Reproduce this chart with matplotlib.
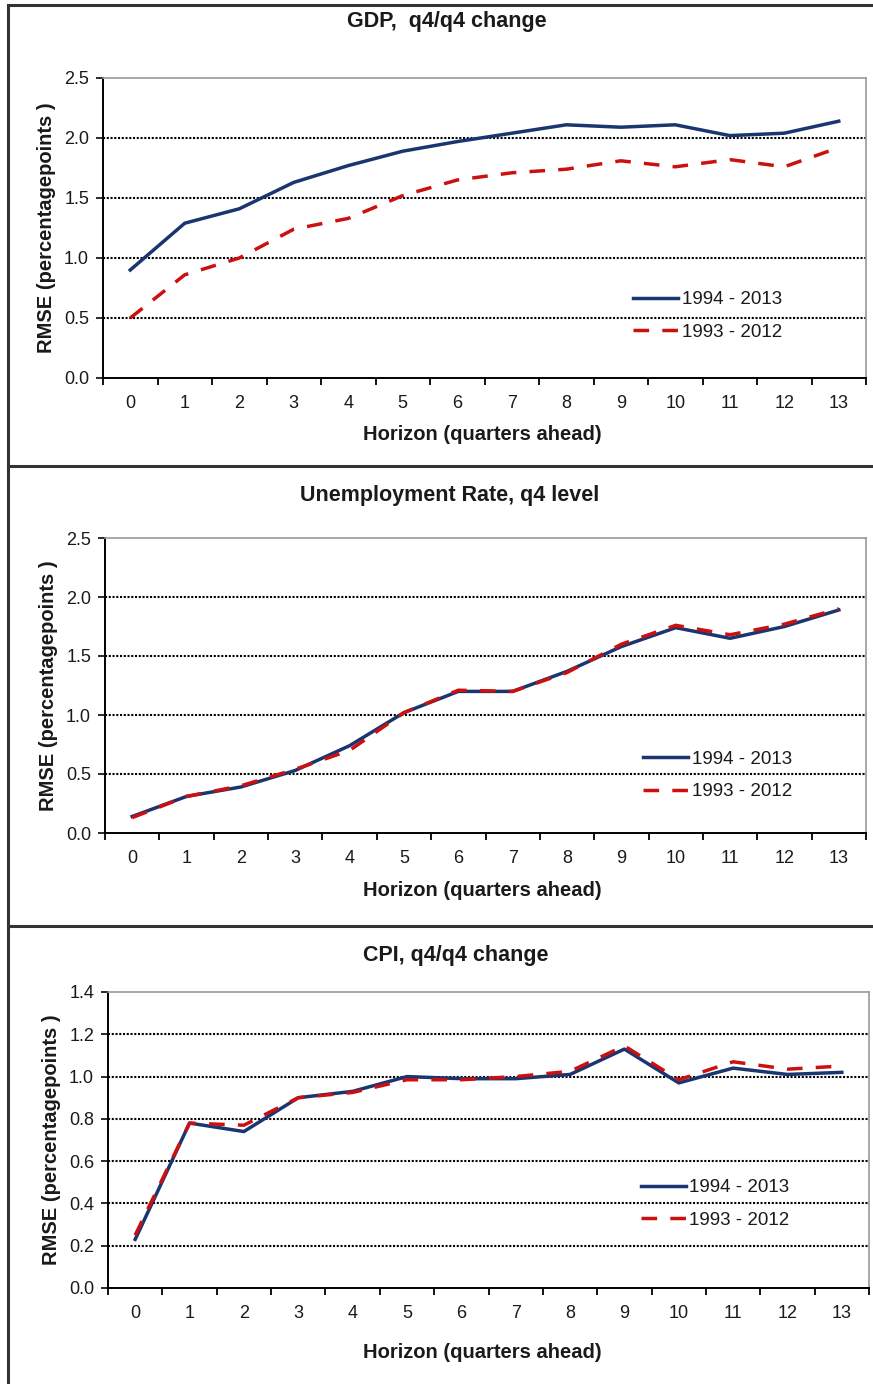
import matplotlib
matplotlib.use("Agg")
import matplotlib.pyplot as plt
from matplotlib.lines import Line2D
from matplotlib.ticker import FixedLocator, FormatStrFormatter

plt.rcParams["font.family"] = ["Liberation Sans", "DejaVu Sans"]

# ===== data =====
horizon = list(range(14))
labels = ["1994 - 2013", "1993 - 2012"]

gdp_9413 = [0.90, 1.29, 1.41, 1.63, 1.77, 1.89, 1.97, 2.04, 2.11, 2.09, 2.11, 2.02, 2.04, 2.14]
gdp_9312 = [0.50, 0.86, 1.00, 1.24, 1.33, 1.52, 1.65, 1.71, 1.74, 1.81, 1.76, 1.82, 1.76, 1.92]

unemp_9413 = [0.14, 0.31, 0.39, 0.53, 0.74, 1.02, 1.20, 1.20, 1.37, 1.58, 1.74, 1.65, 1.75, 1.89]
unemp_9312 = [0.13, 0.31, 0.40, 0.54, 0.70, 1.02, 1.21, 1.20, 1.36, 1.60, 1.76, 1.68, 1.77, 1.90]

cpi_9413 = [0.23, 0.78, 0.74, 0.90, 0.93, 1.00, 0.99, 0.99, 1.01, 1.13, 0.97, 1.04, 1.01, 1.02]
cpi_9312 = [0.25, 0.78, 0.77, 0.90, 0.925, 0.985, 0.985, 1.00, 1.025, 1.145, 0.985, 1.07, 1.035, 1.05]

titles = ["GDP,  q4/q4 change", "Unemployment Rate, q4 level", "CPI, q4/q4 change"]

NAVY, RED = "#1b3570", "#cc1010"
TXT = "#1a1a1a"
W, H = 873, 1384

fig = plt.figure(figsize=(W / 100, H / 100), dpi=100)


def rect(l, r, t, b):
    return [l / W, (H - b) / H, (r - l) / W, (b - t) / H]


panels = [
    dict(box=rect(103, 866, 78, 378), ymax=2.5, ystep=0.5, fmt="%.1f",
         a=gdp_9413, b=gdp_9312, leg=(0.695, 0.207), title_y=22, title_x=447, xl_y=435),
    dict(box=rect(105, 866, 538, 833), ymax=2.5, ystep=0.5, fmt="%.1f",
         a=unemp_9413, b=unemp_9312, leg=(0.707, 0.195), title_y=495, title_x=450, xl_y=890),
    dict(box=rect(108, 869, 992, 1288), ymax=1.4, ystep=0.2, fmt="%.1f",
         a=cpi_9413, b=cpi_9312, leg=(0.70, 0.284), title_y=955, title_x=456, xl_y=1352),
]

for p, title in zip(panels, titles):
    ax = fig.add_axes(p["box"])
    ax.plot(horizon, p["a"], color=NAVY, lw=2.5, label=labels[0], zorder=3)
    ax.plot(horizon, p["b"], color=RED, lw=2.5, ls=(0, (4.5, 3.8)), label=labels[1], zorder=4)

    ax.set_xlim(-0.5, 13.5)
    ax.set_ylim(0, p["ymax"])
    n = int(round(p["ymax"] / p["ystep"]))
    yt = [i * p["ystep"] for i in range(n + 1)]
    ax.set_yticks(yt)
    ax.yaxis.set_major_formatter(FormatStrFormatter(p["fmt"]))
    for y in yt[1:-1]:
        ax.axhline(y, color="black", lw=1.5, ls=(0, (1, 0.8)), zorder=1)

    ax.set_xticks(horizon)
    ax.xaxis.set_minor_locator(FixedLocator([i - 0.5 for i in range(15)]))
    ax.tick_params(axis="x", which="major", length=0, pad=12, labelsize=13, colors=TXT)
    ax.tick_params(axis="x", which="minor", length=5, width=1.3, direction="out", color="black")
    ax.tick_params(axis="y", which="major", length=5, width=1.3, direction="out", pad=5,
                   labelsize=13, colors=TXT)

    for s in ("left", "bottom"):
        ax.spines[s].set_color("black")
        ax.spines[s].set_linewidth(1.4)
    for s in ("top", "right"):
        ax.spines[s].set_color("#9a9a9a")
        ax.spines[s].set_linewidth(1.2)

    ax.set_ylabel("RMSE (percentagepoints )", fontsize=14.5, fontweight="bold", color=TXT, labelpad=6)

    fig.text(p["title_x"] / W, 1 - p["title_y"] / H, title, ha="center", va="center",
             fontsize=15.5, fontweight="bold", color=TXT)
    fig.text(482 / W, 1 - p["xl_y"] / H, "Horizon (quarters ahead)", ha="center", va="center",
             fontsize=14.5, fontweight="bold", color=TXT)

    ax.legend(loc="center left", bbox_to_anchor=p["leg"], frameon=False, fontsize=13.5,
              handlelength=2.4, handletextpad=0.2, labelspacing=0.8, borderpad=0,
              borderaxespad=0, labelcolor=TXT)

# panel frames
frame = dict(color="#333333", lw=2.2, transform=fig.transFigure)
fig.add_artist(Line2D([8 / W, 8 / W], [0, 1 - 5 / H], **frame))
for yy in (5, 466, 926):
    fig.add_artist(Line2D([8 / W, 1], [1 - yy / H, 1 - yy / H], **frame))

fig.savefig("out.png", dpi=100, facecolor="white")
